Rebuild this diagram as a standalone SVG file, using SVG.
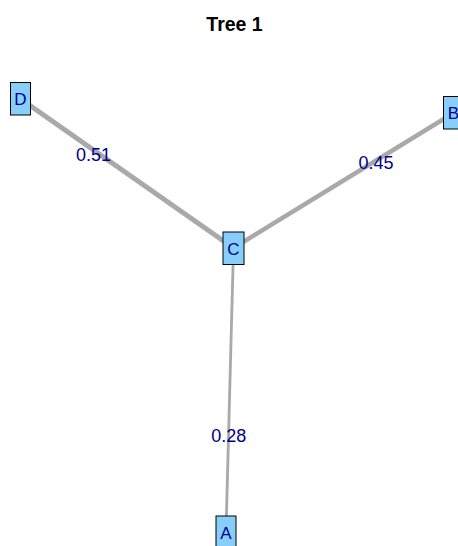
<svg xmlns="http://www.w3.org/2000/svg" width="458" height="546" viewBox="0 0 458 546">
  <style>
    .edge { stroke: #A9A9A9; fill: none; }
    .node rect { fill: #87CEFA; stroke: #000000; stroke-width: 1; }
    .vlbl { font-family: "Liberation Sans", Arial, sans-serif; font-size: 17px; fill: #00008B; text-anchor: middle; }
    .elbl { font-family: "Liberation Sans", Arial, sans-serif; font-size: 18px; fill: #00008B; text-anchor: middle; }
    .title { font-family: "Liberation Sans", Arial, sans-serif; font-size: 19.5px; font-weight: bold; fill: #000000; text-anchor: middle; }
  </style>
  <rect width="458" height="546" fill="#ffffff"/>
  <text class="title" x="234.5" y="31">Tree 1</text>
  <g id="edges">
    <line class="edge" x1="20" y1="98.5" x2="233.5" y2="248" stroke-width="5.1"/>
    <line class="edge" x1="453.5" y1="113" x2="233.5" y2="248" stroke-width="4.5"/>
    <line class="edge" x1="233.5" y1="248" x2="226" y2="532" stroke-width="2.8"/>
    <text class="elbl" x="93.5" y="161">0.51</text>
    <text class="elbl" x="376" y="169">0.45</text>
    <text class="elbl" x="228.7" y="441.5">0.28</text>
  </g>
  <g id="node-D" class="node">
    <rect x="10.5" y="82.5" width="20" height="32.5"/>
    <text class="vlbl" x="20.5" y="105">D</text>
  </g>
  <g id="node-B" class="node">
    <rect x="443.5" y="96.5" width="20" height="32.5"/>
    <text class="vlbl" x="453.5" y="119">B</text>
  </g>
  <g id="node-C" class="node">
    <rect x="223" y="232" width="21" height="32.5"/>
    <text class="vlbl" x="233.5" y="254.5">C</text>
  </g>
  <g id="node-A" class="node">
    <rect x="216" y="516" width="20" height="32.5"/>
    <text class="vlbl" x="226" y="538.5">A</text>
  </g>
</svg>
